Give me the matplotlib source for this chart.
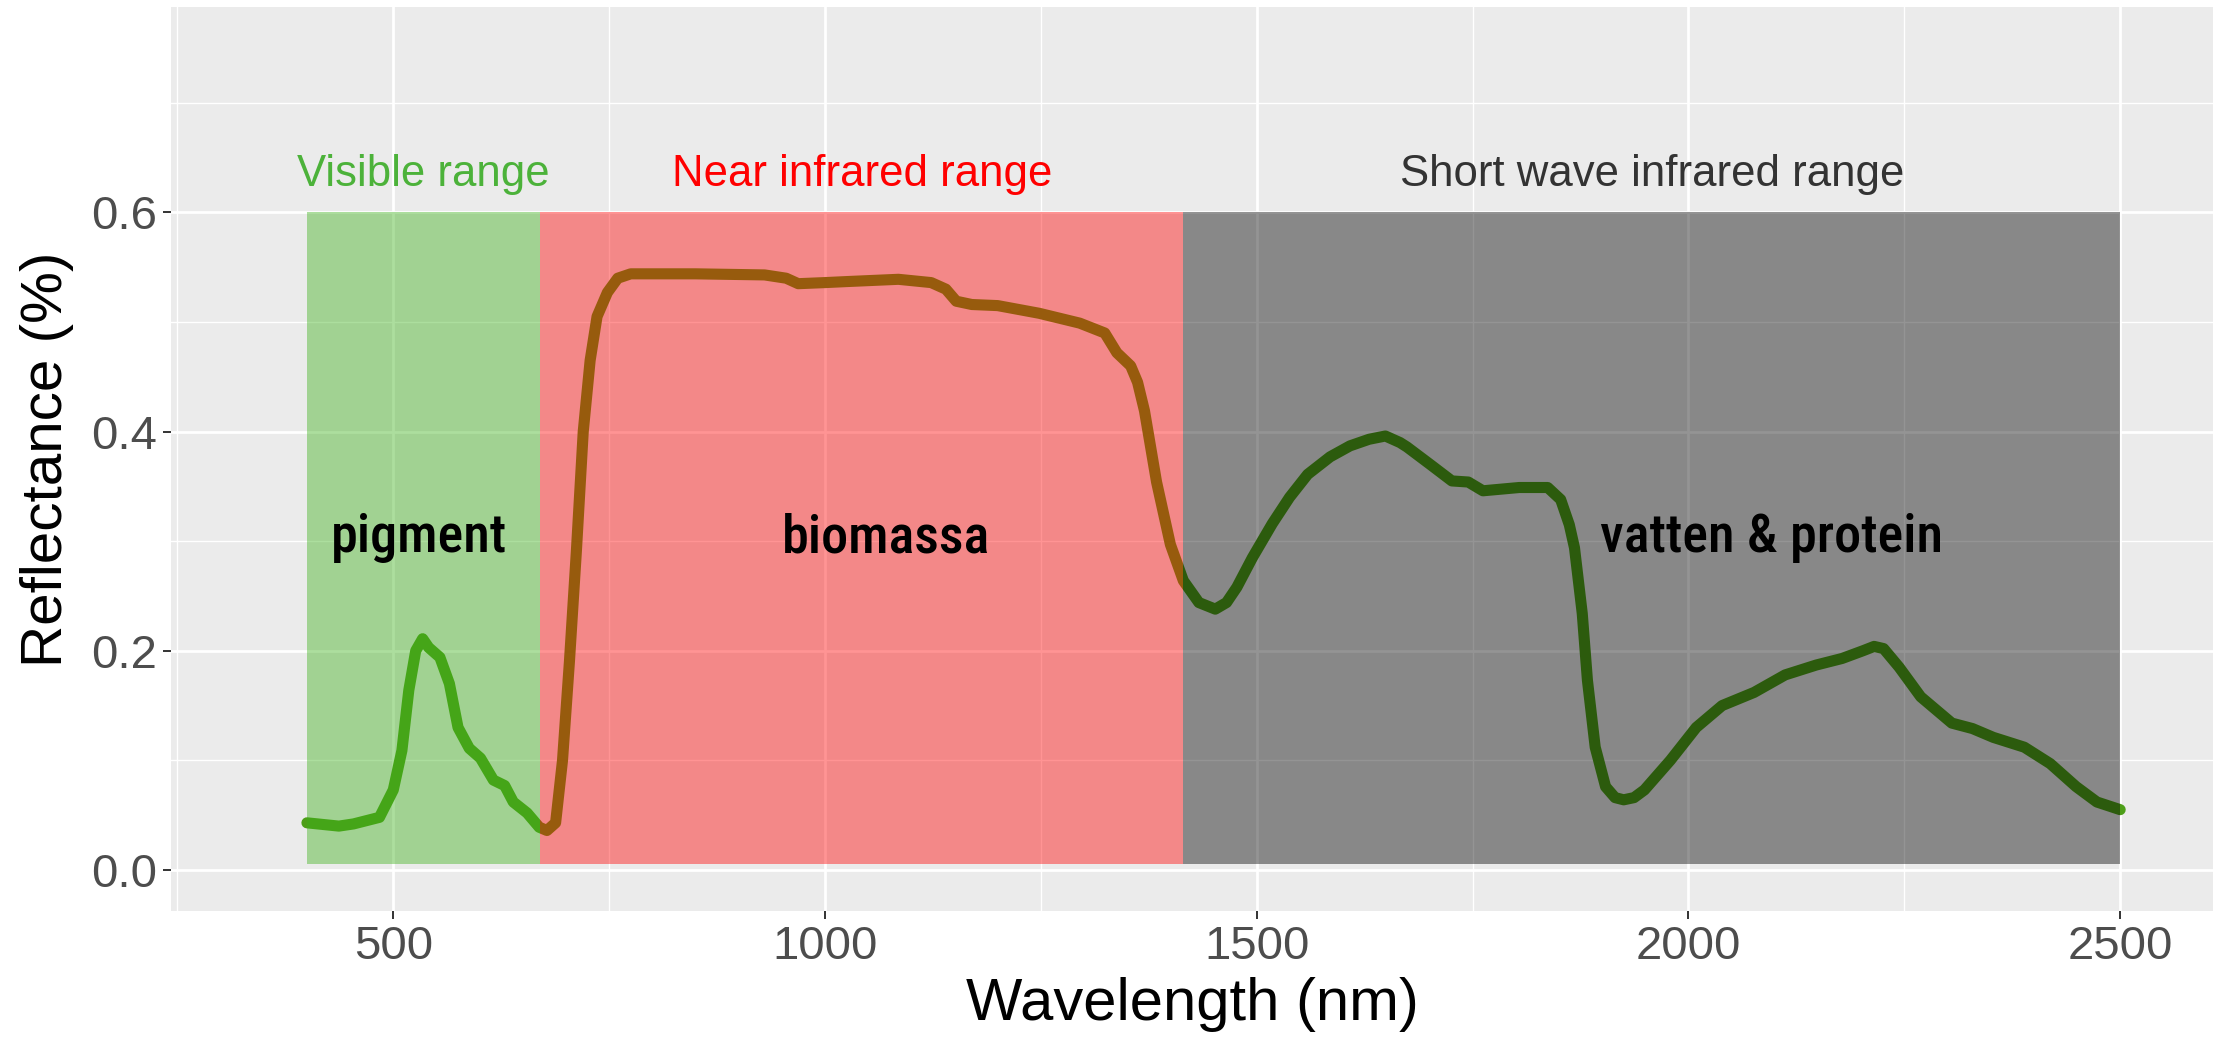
import numpy as np
import matplotlib.pyplot as plt
from matplotlib.patches import Rectangle

# reflectance spectrum (nm, fraction)
wavelength = [400, 437, 454, 484, 500, 510, 518, 526, 534, 541, 554, 565, 575, 588,
              601, 616, 629, 639, 655, 669, 678, 688, 696, 704, 712, 720, 728, 736,
              748, 760, 775, 800, 850, 930, 955, 969, 1000, 1027, 1085, 1123, 1140,
              1152, 1170, 1200, 1248, 1295, 1324, 1338, 1354, 1362, 1370, 1384, 1400,
              1415, 1433, 1452, 1465, 1477, 1495, 1518, 1538, 1559, 1585, 1608, 1630,
              1649, 1666, 1674, 1701, 1726, 1745, 1762, 1804, 1837, 1852, 1862, 1868,
              1877, 1883, 1892, 1904, 1915, 1925, 1937, 1949, 1979, 2009, 2039, 2076,
              2112, 2148, 2178, 2202, 2215, 2226, 2244, 2269, 2305, 2329, 2353, 2389,
              2419, 2449, 2473, 2500]
reflectance = [0.043, 0.040, 0.042, 0.048, 0.073, 0.109, 0.164, 0.200, 0.211, 0.203,
               0.194, 0.170, 0.130, 0.111, 0.102, 0.082, 0.077, 0.062, 0.052, 0.039,
               0.036, 0.043, 0.100, 0.190, 0.290, 0.400, 0.465, 0.505, 0.527, 0.540,
               0.544, 0.544, 0.544, 0.543, 0.540, 0.535, 0.536, 0.537, 0.539, 0.536,
               0.530, 0.519, 0.516, 0.515, 0.508, 0.499, 0.490, 0.472, 0.460, 0.445,
               0.419, 0.354, 0.297, 0.264, 0.244, 0.238, 0.244, 0.258, 0.285, 0.316,
               0.340, 0.361, 0.377, 0.387, 0.393, 0.396, 0.390, 0.386, 0.370, 0.355,
               0.354, 0.346, 0.349, 0.349, 0.338, 0.315, 0.294, 0.234, 0.173, 0.112,
               0.076, 0.066, 0.064, 0.066, 0.073, 0.100, 0.130, 0.150, 0.162, 0.178,
               0.187, 0.193, 0.200, 0.204, 0.202, 0.185, 0.158, 0.134, 0.129, 0.121,
               0.112, 0.097, 0.076, 0.062, 0.055]

# spectral ranges
range_names = ['Visible range', 'Near infrared range', 'Short wave infrared range']
range_start = [400, 670, 1415]
range_end = [670, 1415, 2500]
range_fill = ['#3bb118', 'red', 'black']
range_text = ['#4cb23a', 'red', '#333333']

region_labels = ['pigment', 'biomassa', 'vatten & protein']
region_x = [530, 1071, 2096]

plt.rcParams['font.family'] = ['Liberation Sans', 'DejaVu Sans']

fig = plt.figure(figsize=(22.17, 10.45), dpi=100)
ax = fig.add_axes([0.0771, 0.1282, 0.9211, 0.8651])
ax.set_facecolor('#ebebeb')

ax.plot(wavelength, reflectance, color='#4d9e18', lw=8,
        solid_capstyle='round', solid_joinstyle='round', zorder=2)

for name, x0, x1, fc, tc in zip(range_names, range_start, range_end, range_fill, range_text):
    ax.add_patch(Rectangle((x0, 0.005), x1 - x0, 0.6 - 0.005, facecolor=fc,
                           alpha=0.42, lw=0, zorder=3))
    ax.text((x0 + x1) / 2, 0.635, name, color=tc, fontsize=31.5,
            ha='center', va='center', zorder=4)

for lab, x in zip(region_labels, region_x):
    ax.text(x, 0.303, lab, fontsize=39, fontweight='medium', color='black',
            family=['Roboto Condensed', 'Liberation Sans Narrow', 'Roboto'],
            fontstretch='condensed', ha='center', va='center', zorder=4)

ax.set_xlim(242.5, 2607.5)
ax.set_ylim(-0.0375, 0.7875)
ax.set_xticks([500, 1000, 1500, 2000, 2500])
ax.set_yticks([0.0, 0.2, 0.4, 0.6])
ax.set_yticklabels(['0.0', '0.2', '0.4', '0.6'])
ax.set_xticks([250, 750, 1250, 1750, 2250], minor=True)
ax.set_yticks([0.1, 0.3, 0.5, 0.7], minor=True)
ax.grid(which='major', color='white', lw=2.0, zorder=0)
ax.grid(which='minor', color='white', lw=1.0, zorder=0)
ax.set_axisbelow(True)
ax.tick_params(which='major', length=6, width=1.4, color='#333333',
               labelsize=34, labelcolor='#4d4d4d', pad=4)
ax.tick_params(which='minor', length=0)
for s in ax.spines.values():
    s.set_visible(False)

ax.set_xlabel('Wavelength (nm)', fontsize=43, labelpad=6)
ax.set_ylabel('Reflectance (%)', fontsize=42, labelpad=12)

fig.savefig('out.png', dpi=100)
